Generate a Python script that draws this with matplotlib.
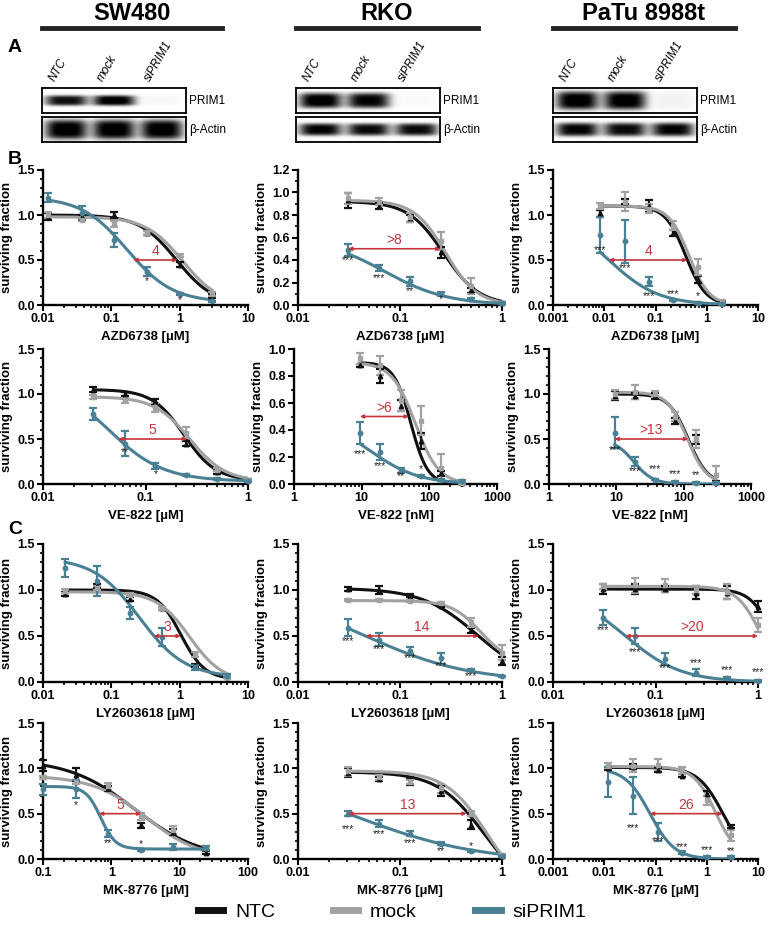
import numpy as np
import matplotlib
matplotlib.use("Agg")
import matplotlib.pyplot as plt
from matplotlib.lines import Line2D
from matplotlib.ticker import MultipleLocator, FuncFormatter, LogLocator, NullFormatter

plt.rcParams['font.family'] = ['Liberation Sans', 'DejaVu Sans']

# colours
C_NTC = '#111111'
C_MOCK = '#a2a2a2'
C_SI = '#4a8094'
C_RED = '#c4343b'

# ---------------- data ----------------
cell_lines = ['SW480', 'RKO', 'PaTu 8988t']
lanes = ['NTC', 'mock', 'siPRIM1']
blot_rows = ['PRIM1', 'β-Actin']
# band intensity per lane (NTC, mock, siPRIM1)
prim1_bands = [[0.9, 1.0, 0.03], [1.0, 0.95, 0.02], [1.0, 1.0, 0.05]]
actin_bands = [[1.0, 1.0, 1.0], [0.95, 0.92, 0.92], [0.95, 0.92, 0.95]]

# fit params: (top, bottom, EC50, hill) for NTC, mock, siPRIM1
# --- B, AZD6738 ---
b1_dose = [0.012, 0.037, 0.11, 0.33, 1, 3]
b1_ntc = [0.98, 0.98, 1.0, 0.80, 0.45, 0.10]
b1_ntc_sd = [0.04, 0.02, 0.03, 0.02, 0.03, 0.02]
b1_mock = [1.0, 0.95, 0.90, 0.80, 0.55, 0.12]
b1_mock_sd = [0.03, 0.02, 0.03, 0.02, 0.02, 0.02]
b1_si = [1.19, 1.02, 0.72, 0.37, 0.12, 0.04]
b1_si_sd = [0.05, 0.08, 0.08, 0.05, 0.01, 0.01]
b1_fit = [(1.0, 0.0, 0.9, 1.6), (0.98, 0.0, 1.1, 1.6), (1.2, 0.03, 0.17, 1.3)]
b1_arrow = (0.21, 0.93, '4')
b1_stars = [(0.33, 0.27, '*'), (1, 0.05, '*')]

b2_dose = [0.031, 0.0625, 0.125, 0.25, 0.5, 1]
b2_ntc = [0.93, 0.88, 0.77, 0.47, 0.13, 0.02]
b2_ntc_sd = [0.07, 0.03, 0.03, 0.05, 0.02, 0.01]
b2_mock = [0.95, 0.92, 0.78, 0.57, 0.17, 0.02]
b2_mock_sd = [0.05, 0.03, 0.04, 0.08, 0.07, 0.01]
b2_si = [0.49, 0.33, 0.21, 0.10, 0.05, 0.02]
b2_si_sd = [0.05, 0.03, 0.04, 0.02, 0.01, 0.01]
b2_fit = [(0.92, 0.0, 0.268, 2.5), (0.93, 0.0, 0.28, 2.8), (0.6, 0.0, 0.07, 1.4)]
b2_arrow = (0.031, 0.25, '>8')
b2_stars = [(0.031, 0.40, '***'), (0.0625, 0.24, '***'), (0.125, 0.12, '**'), (0.25, 0.05, '*')]

b3_dose = [0.0082, 0.025, 0.074, 0.22, 0.67, 2.0]
b3_ntc = [1.02, 1.15, 1.10, 0.80, 0.28, 0.02]
b3_ntc_sd = [0.04, 0.03, 0.07, 0.03, 0.04, 0.01]
b3_mock = [1.10, 1.15, 1.07, 0.88, 0.42, 0.03]
b3_mock_sd = [0.03, 0.11, 0.05, 0.05, 0.09, 0.03]
b3_si = [0.78, 0.71, 0.26, 0.06, 0.02, 0.01]
b3_si_sd = [0.20, 0.24, 0.05, 0.01, 0.01, 0.01]
b3_fit = [(1.1, 0.0, 0.387, 2.2), (1.1, 0.0, 0.45, 2.2), (1.0, 0.0, 0.0123, 0.9)]
b3_arrow = (0.0123, 0.42, '4')
b3_stars = [(0.0082, 0.61, '***'), (0.025, 0.41, '***'), (0.074, 0.10, '***'),
            (0.22, 0.125, '***'), (0.67, 0.10, '*')]

# --- B, VE-822 ---
b4_dose = [0.031, 0.0625, 0.125, 0.25, 0.5, 1]
b4_ntc = [1.05, 1.0, 0.92, 0.45, 0.13, 0.05]
b4_ntc_sd = [0.03, 0.02, 0.03, 0.03, 0.02, 0.01]
b4_mock = [0.97, 0.93, 0.85, 0.57, 0.16, 0.05]
b4_mock_sd = [0.02, 0.03, 0.05, 0.06, 0.02, 0.01]
b4_si = [0.78, 0.45, 0.20, 0.10, 0.06, 0.03]
b4_si_sd = [0.07, 0.14, 0.03, 0.01, 0.01, 0.01]
b4_fit = [(1.05, 0.04, 0.238, 2.8), (0.97, 0.03, 0.27, 2.5), (1.2, 0.03, 0.0424, 1.6)]
b4_arrow = (0.0544, 0.254, '5')
b4_stars = [(0.0625, 0.35, '**'), (0.125, 0.11, '*')]

b5_dose = [9.4, 18.75, 37.5, 75, 150, 300]
b5_ntc = [0.88, 0.80, 0.58, 0.32, 0.08, 0.01]
b5_ntc_sd = [0.01, 0.05, 0.04, 0.06, 0.02, 0.01]
b5_mock = [0.93, 0.88, 0.62, 0.47, 0.12, 0.01]
b5_mock_sd = [0.04, 0.07, 0.08, 0.11, 0.10, 0.01]
b5_si = [0.38, 0.24, 0.10, 0.06, 0.03, 0.02]
b5_si_sd = [0.08, 0.06, 0.02, 0.01, 0.01, 0.01]
b5_fit = [(0.9, 0.0, 53.3, 3.5), (0.9, 0.0, 62, 2.5), (0.5, 0.0, 13, 1.2)]
b5_arrow = (9.4, 50, '>6')
b5_stars = [(9.4, 0.22, '***'), (18.75, 0.13, '***'), (37.5, 0.055, '**'), (75, 0.11, '*')]

b6_dose = [9.4, 18.75, 37.5, 75, 150, 300]
b6_ntc = [0.98, 0.98, 0.98, 0.70, 0.50, 0.02]
b6_ntc_sd = [0.05, 0.03, 0.03, 0.03, 0.05, 0.01]
b6_mock = [1.0, 1.02, 1.0, 0.75, 0.50, 0.10]
b6_mock_sd = [0.05, 0.08, 0.03, 0.05, 0.10, 0.10]
b6_si = [0.57, 0.25, 0.05, 0.02, 0.01, 0.01]
b6_si_sd = [0.17, 0.05, 0.01, 0.01, 0.01, 0.01]
b6_fit = [(1.0, 0.0, 117, 3), (1.02, 0.0, 112, 3), (0.5, 0.0, 18, 3)]
b6_arrow = (9.4, 117, '>13')
b6_stars = [(9.4, 0.38, '***'), (18.75, 0.14, '***'), (37.5, 0.17, '***'),
            (75, 0.11, '***'), (150, 0.10, '**')]

# --- C, LY2603618 ---
c1_dose = [0.021, 0.062, 0.185, 0.56, 1.67, 5]
c1_ntc = [0.96, 1.04, 0.90, 0.80, 0.18, 0.05]
c1_ntc_sd = [0.02, 0.02, 0.02, 0.02, 0.02, 0.01]
c1_mock = [0.99, 1.02, 0.95, 0.80, 0.30, 0.05]
c1_mock_sd = [0.02, 0.02, 0.02, 0.02, 0.03, 0.01]
c1_si = [1.24, 1.10, 0.75, 0.49, 0.16, 0.07]
c1_si_sd = [0.10, 0.16, 0.06, 0.10, 0.03, 0.02]
c1_fit = [(1.0, 0.03, 1.04, 2.5), (0.98, 0.0, 1.4, 1.8), (1.35, 0.05, 0.258, 1.3)]
c1_arrow = (0.42, 1.04, '3')
c1_stars = []

c2_dose = [0.031, 0.0625, 0.125, 0.25, 0.5, 1]
c2_ntc = [1.01, 1.0, 0.94, 0.83, 0.56, 0.23]
c2_ntc_sd = [0.02, 0.04, 0.02, 0.02, 0.03, 0.04]
c2_mock = [0.89, 0.89, 0.88, 0.86, 0.65, 0.32]
c2_mock_sd = [0.01, 0.01, 0.01, 0.01, 0.05, 0.08]
c2_si = [0.59, 0.46, 0.34, 0.26, 0.13, 0.06]
c2_si_sd = [0.09, 0.07, 0.04, 0.06, 0.01, 0.01]
c2_fit = [(1.02, 0.0, 0.575, 1.6), (0.885, 0.2, 0.62, 3), (1.0, 0.0, 0.046, 0.85)]
c2_arrow = (0.046, 0.59, '14')
c2_stars = [(0.031, 0.45, '***'), (0.0625, 0.36, '***'), (0.125, 0.26, '***'),
            (0.25, 0.17, '***'), (0.5, 0.066, '***')]

c3_dose = [0.031, 0.0625, 0.125, 0.25, 0.5, 1]
c3_ntc = [1.01, 1.01, 1.01, 0.97, 0.97, 0.82]
c3_ntc_sd = [0.05, 0.05, 0.03, 0.07, 0.07, 0.06]
c3_mock = [1.04, 1.05, 1.05, 1.0, 0.98, 0.62]
c3_mock_sd = [0.03, 0.08, 0.07, 0.04, 0.08, 0.08]
c3_si = [0.70, 0.50, 0.25, 0.10, 0.04, 0.01]
c3_si_sd = [0.08, 0.09, 0.06, 0.04, 0.01, 0.01]
c3_fit = [(1.01, 0.0, 1.4, 4), (1.04, 0.0, 1.07, 3.7), (1.0, 0.0, 0.051, 1.6)]
c3_arrow = (0.051, 1.0, '>20')
c3_stars = [(0.031, 0.56, '***'), (0.0625, 0.33, '***'), (0.125, 0.15, '***'),
            (0.25, 0.21, '***'), (0.5, 0.13, '***'), (1, 0.11, '***')]

# --- C, MK-8776 ---
c4_dose = [0.1, 0.3, 0.9, 2.7, 8.1, 24.3]
c4_ntc = [1.03, 0.93, 0.78, 0.37, 0.30, 0.07]
c4_ntc_sd = [0.06, 0.07, 0.03, 0.03, 0.03, 0.02]
c4_mock = [0.90, 0.85, 0.80, 0.47, 0.32, 0.12]
c4_mock_sd = [0.02, 0.02, 0.04, 0.04, 0.04, 0.02]
c4_si = [0.77, 0.77, 0.28, 0.10, 0.13, 0.12]
c4_si_sd = [0.06, 0.10, 0.04, 0.01, 0.03, 0.02]
c4_fit = [(1.1, 0.0, 2.2, 0.9), (0.92, 0.0, 3.2, 1.1), (0.8, 0.11, 0.7, 4)]
c4_arrow = (0.66, 2.75, '5')
c4_stars = [(0.3, 0.60, '*'), (0.9, 0.18, '**'), (2.7, 0.17, '*')]

c5_dose = [0.031, 0.0625, 0.125, 0.25, 0.5, 1]
c5_ntc = [0.95, 0.88, 0.85, 0.75, 0.38, 0.03]
c5_ntc_sd = [0.05, 0.02, 0.03, 0.05, 0.05, 0.01]
c5_mock = [0.97, 0.90, 0.85, 0.78, 0.50, 0.04]
c5_mock_sd = [0.05, 0.03, 0.02, 0.05, 0.03, 0.01]
c5_si = [0.50, 0.39, 0.28, 0.17, 0.09, 0.03]
c5_si_sd = [0.03, 0.04, 0.03, 0.02, 0.01, 0.01]
c5_fit = [(0.96, -0.4, 0.666, 1.9), (0.97, -0.4, 0.707, 2.16), (1.0, -0.04, 0.0345, 0.7)]
c5_arrow = (0.031, 0.45, '13')
c5_stars = [(0.031, 0.33, '***'), (0.0625, 0.27, '***'), (0.125, 0.18, '***'),
            (0.25, 0.09, '**'), (0.5, 0.14, '*')]

c6_dose = [0.012, 0.037, 0.11, 0.33, 1, 3]
c6_ntc = [1.0, 1.02, 0.98, 0.92, 0.72, 0.36]
c6_ntc_sd = [0.02, 0.03, 0.02, 0.02, 0.03, 0.02]
c6_mock = [1.03, 1.03, 1.04, 0.98, 0.65, 0.26]
c6_mock_sd = [0.03, 0.07, 0.06, 0.04, 0.05, 0.06]
c6_si = [0.85, 0.70, 0.30, 0.07, 0.02, 0.02]
c6_si_sd = [0.17, 0.20, 0.10, 0.02, 0.01, 0.01]
c6_fit = [(1.01, 0.0, 2.05, 1.8), (1.02, 0.0, 1.5, 2), (1.0, 0.0, 0.078, 1.8)]
c6_arrow = (0.078, 2.05, '26')
c6_stars = [(0.037, 0.34, '***'), (0.11, 0.20, '***'), (0.33, 0.13, '***'),
            (1, 0.10, '***'), (3, 0.09, '**')]

# ---------------- figure ----------------
W, H = 768, 935
fig = plt.figure(figsize=(W / 100, H / 100), dpi=100)


def box(x0, y0, x1, y1):
    # pixel box -> figure fraction
    return [x0 / W, 1 - y1 / H, (x1 - x0) / W, (y1 - y0) / H]


def logistic(x, p):
    top, bot, ec, hill = p
    return bot + (top - bot) / (1 + (x / ec) ** hill)


def panel(rect, dose, ntc, ntc_sd, mock, mock_sd, si, si_sd, fits, arrow, stars,
          xlim, ylim, ystep, xlabel):
    ax = fig.add_axes(rect)
    xs = np.logspace(np.log10(dose[0]), np.log10(dose[-1]), 300)
    series = [(ntc, ntc_sd, C_NTC, '^'), (mock, mock_sd, C_MOCK, 's'), (si, si_sd, C_SI, 'o')]
    for (y, sd, col, mk), p in zip(series, fits):
        ax.plot(xs, logistic(xs, p), color=col, lw=2.2, zorder=3, solid_capstyle='round')
        ax.errorbar(dose, y, yerr=sd, fmt=mk, color=col, ms=3.2, elinewidth=1.6,
                    capsize=2.6, capthick=1.6, zorder=4, clip_on=False)
    x1, x2, lab = arrow
    ax.annotate('', xy=(x2, 0.5), xytext=(x1, 0.5),
                arrowprops=dict(arrowstyle='<|-|>', color=C_RED, lw=1.2,
                                mutation_scale=5, shrinkA=0, shrinkB=0), zorder=6)
    ax.text(np.sqrt(x1 * x2), 0.5 + ylim[1] * 0.012, lab, color=C_RED, fontsize=10,
            ha='center', va='bottom', zorder=6)
    for sx, sy, st in stars:
        ax.text(sx, sy, st, fontsize=7.5, ha='center', va='center', color='#222222', zorder=5)
    ax.set_xscale('log')
    ax.set_xlim(*xlim)
    ax.set_ylim(*ylim)
    ax.yaxis.set_major_locator(MultipleLocator(ystep))
    ax.yaxis.set_minor_locator(MultipleLocator(0.1))
    ax.yaxis.set_major_formatter(FuncFormatter(lambda v, _: '%.1f' % v))
    ax.xaxis.set_major_locator(LogLocator(base=10))
    ax.xaxis.set_minor_locator(LogLocator(base=10, subs=np.arange(2, 10)))
    ax.xaxis.set_minor_formatter(NullFormatter())
    ax.xaxis.set_major_formatter(FuncFormatter(lambda v, _: '%g' % v))
    for s in ['top', 'right']:
        ax.spines[s].set_visible(False)
    for s in ['left', 'bottom']:
        ax.spines[s].set_linewidth(1.7)
    ax.tick_params(which='major', length=4.5, width=1.5, labelsize=9, pad=1.5)
    ax.tick_params(which='minor', length=2.5, width=1.2)
    for t in ax.get_xticklabels() + ax.get_yticklabels():
        t.set_fontweight('bold')
    ax.set_ylabel('surviving fraction', fontsize=9.5, fontweight='bold', labelpad=3)
    ax.set_xlabel(xlabel, fontsize=9.5, fontweight='bold', labelpad=4)
    return ax


panel(box(43, 170, 248, 305), b1_dose, b1_ntc, b1_ntc_sd, b1_mock,
      b1_mock_sd, b1_si, b1_si_sd, b1_fit, b1_arrow, b1_stars, (0.01, 10), (0, 1.5), 0.5, 'AZD6738 [µM]')
panel(box(298, 170, 502, 305), b2_dose, b2_ntc, b2_ntc_sd, b2_mock,
      b2_mock_sd, b2_si, b2_si_sd, b2_fit, b2_arrow, b2_stars, (0.01, 1), (0, 1.2), 0.2, 'AZD6738 [µM]')
panel(box(553, 170, 758, 305), b3_dose, b3_ntc, b3_ntc_sd, b3_mock,
      b3_mock_sd, b3_si, b3_si_sd, b3_fit, b3_arrow, b3_stars, (0.001, 10), (0, 1.5), 0.5, 'AZD6738 [µM]')
panel(box(43, 349, 248, 484), b4_dose, b4_ntc, b4_ntc_sd, b4_mock,
      b4_mock_sd, b4_si, b4_si_sd, b4_fit, b4_arrow, b4_stars, (0.01, 1), (0, 1.5), 0.5, 'VE-822 [µM]')
panel(box(294, 349, 497, 484), b5_dose, b5_ntc, b5_ntc_sd, b5_mock,
      b5_mock_sd, b5_si, b5_si_sd, b5_fit, b5_arrow, b5_stars, (1, 1000), (0, 1.0), 0.2, 'VE-822 [nM]')
panel(box(549, 349, 751, 484), b6_dose, b6_ntc, b6_ntc_sd, b6_mock,
      b6_mock_sd, b6_si, b6_si_sd, b6_fit, b6_arrow, b6_stars, (1, 1000), (0, 1.5), 0.5, 'VE-822 [nM]')
panel(box(43, 544, 248, 682), c1_dose, c1_ntc, c1_ntc_sd, c1_mock,
      c1_mock_sd, c1_si, c1_si_sd, c1_fit, c1_arrow, c1_stars, (0.01, 10), (0, 1.5), 0.5, 'LY2603618 [µM]')
panel(box(298, 544, 502, 682), c2_dose, c2_ntc, c2_ntc_sd, c2_mock,
      c2_mock_sd, c2_si, c2_si_sd, c2_fit, c2_arrow, c2_stars, (0.01, 1), (0, 1.5), 0.5, 'LY2603618 [µM]')
panel(box(553, 544, 758, 682), c3_dose, c3_ntc, c3_ntc_sd, c3_mock,
      c3_mock_sd, c3_si, c3_si_sd, c3_fit, c3_arrow, c3_stars, (0.01, 1), (0, 1.5), 0.5, 'LY2603618 [µM]')
panel(box(43, 723, 248, 859), c4_dose, c4_ntc, c4_ntc_sd, c4_mock,
      c4_mock_sd, c4_si, c4_si_sd, c4_fit, c4_arrow, c4_stars, (0.1, 100), (0, 1.5), 0.5, 'MK-8776 [µM]')
panel(box(298, 723, 502, 859), c5_dose, c5_ntc, c5_ntc_sd, c5_mock,
      c5_mock_sd, c5_si, c5_si_sd, c5_fit, c5_arrow, c5_stars, (0.01, 1), (0, 1.5), 0.5, 'MK-8776 [µM]')
panel(box(553, 723, 758, 859), c6_dose, c6_ntc, c6_ntc_sd, c6_mock,
      c6_mock_sd, c6_si, c6_si_sd, c6_fit, c6_arrow, c6_stars, (0.001, 10), (0, 1.5), 0.5, 'MK-8776 [µM]')

# ---------------- headers + western blots ----------------
header_x = [(42, 222), (296, 478), (553, 735)]
blot_x = [(42, 186), (296, 440), (553, 697)]
prim1_h = [0.42, 0.62, 0.75]
actin_h = [0.8, 0.5, 0.55]
for i, name in enumerate(cell_lines):
    hx0, hx1 = header_x[i]
    fig.text((hx0 + hx1) / 2 / W, 1 - 14 / H, name, ha='center', va='center',
             fontsize=17, fontweight='bold', family=['Liberation Sans Narrow', 'Liberation Sans'])
    fig.add_artist(Line2D([hx0 / W, hx1 / W], [1 - 28 / H, 1 - 28 / H], color='#222222', lw=3.5,
                          transform=fig.transFigure))
    bx0, bx1 = blot_x[i]
    lane_w = (bx1 - bx0) / 3
    for j, lane in enumerate(lanes):
        cx = bx0 + lane_w * (j + 0.5)
        fig.text((cx - 9) / W, 1 - 84 / H, lane, rotation=60, rotation_mode='anchor',
                 ha='left', va='bottom', fontsize=8.5, style='italic')
    for k, (rowname, bands, hh) in enumerate(zip(blot_rows, [prim1_bands[i], actin_bands[i]],
                                                 [prim1_h[i], actin_h[i]])):
        y0 = 88 + k * 29
        bax = fig.add_axes(box(bx0, y0, bx1, y0 + 25))
        nx, ny = 150, 40
        gx, gy = np.meshgrid(np.linspace(0, 3, nx), np.linspace(-1, 1, ny))
        img = np.zeros((ny, nx))
        for j, inten in enumerate(bands):
            img += inten * np.exp(-((gx - (j + 0.5)) / 0.44) ** 4) * np.exp(-(gy / hh) ** 4)
        bax.imshow(np.clip(img, 0, 1), cmap='gray_r', vmin=0, vmax=0.95, aspect='auto',
                   interpolation='bilinear', extent=(0, 3, -1, 1))
        bax.set_xticks([])
        bax.set_yticks([])
        for s in bax.spines.values():
            s.set_linewidth(1.3)
        fig.text((bx1 + 3) / W, 1 - (y0 + 13) / H, rowname, ha='left', va='center', fontsize=8.5,
                 family=['Liberation Sans Narrow', 'Liberation Sans'])

# panel letters
fig.text(8 / W, 1 - 47 / H, 'A', fontsize=14, fontweight='bold', va='center')
fig.text(8 / W, 1 - 160 / H, 'B', fontsize=14, fontweight='bold', va='center')
fig.text(8 / W, 1 - 530 / H, 'C', fontsize=14, fontweight='bold', va='center')

# legend
handles = [Line2D([], [], color=c, lw=5) for c in [C_NTC, C_MOCK, C_SI]]
fig.legend(handles, ['NTC', 'mock', 'siPRIM1'], loc='center', bbox_to_anchor=(392 / W, 1 - 912 / H),
           ncol=3, frameon=False, fontsize=14, handlelength=1.3, columnspacing=3.0, handletextpad=0.6)

fig.savefig('out.png', dpi=100)
